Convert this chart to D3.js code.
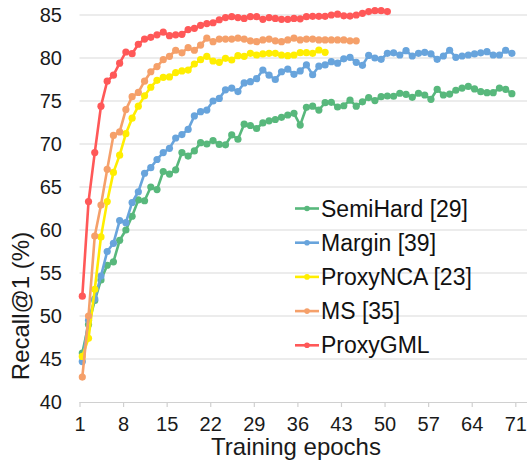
<!DOCTYPE html>
<html>
<head>
<meta charset="utf-8">
<script src="https://cdn.jsdelivr.net/npm/d3@7"></script>
<style>
  html, body { margin: 0; padding: 0; background: #fff; }
  svg { display: block; font-family: "Liberation Sans", Arial, sans-serif; }
</style>
</head>
<body>
<svg id="chart" width="527" height="462"></svg>
<script>
// ---- data ----
const seriesNames = ["SemiHard [29]", "Margin [39]", "ProxyNCA [23]", "MS [35]", "ProxyGML"];
const seriesColors = ["#58b87c", "#68a4dc", "#ffee00", "#f5a06a", "#ff5858"];

const semiHard = [45.7, 49.0, 51.8, 54.2, 55.9, 56.3, 58.8, 60.0, 61.6, 63.5,
  63.4, 65.0, 64.7, 66.8, 66.5, 67.0, 69.0, 68.6, 69.2, 70.15,
  70.0, 70.4, 69.95, 69.9, 71.05, 70.55, 72.3, 72.15, 71.8, 72.45,
  72.7, 72.85, 73.1, 73.37, 73.57, 72.2, 74.27, 74.4, 73.95, 74.8,
  74.85, 74.3, 74.45, 75.1, 74.4, 74.9, 75.4, 75.05, 75.5, 75.58,
  75.55, 75.9, 75.78, 75.43, 75.9, 75.7, 75.2, 76.36, 75.7, 75.8,
  76.25, 76.5, 76.7, 76.4, 76.08, 75.97, 75.97, 76.5, 76.36, 75.85];

const margin = [44.7, 49.5, 52.0, 54.65, 57.5, 58.45, 61.1, 60.85, 63.2, 64.45,
  66.6, 67.25, 68.2, 69.0, 69.5, 70.7, 71.1, 71.7, 73.26, 73.76,
  73.95, 75.0, 75.3, 76.3, 76.5, 76.1, 77.1, 77.25, 77.6, 78.6,
  78.0, 77.5, 78.4, 78.7, 78.1, 78.5, 79.2, 78.05, 79.05, 79.2,
  79.57, 79.4, 79.9, 80.08, 79.5, 79.15, 80.3, 80.0, 79.85, 80.54,
  80.6, 80.35, 80.85, 80.23, 80.54, 80.66, 80.47, 79.85, 80.23, 80.9,
  80.08, 80.23, 80.35, 80.47, 80.6, 80.74, 80.35, 80.35, 80.9, 80.54];

const proxyNCA = [45.3, 47.4, 53.1, 59.2, 63.3, 66.7, 68.7, 71.2, 73.0, 74.4,
  75.6, 76.6, 77.4, 77.75, 77.8, 78.3, 78.5, 78.6, 79.3, 79.8,
  80.2, 79.65, 79.5, 79.96, 79.77, 80.27, 80.2, 80.54, 80.35, 80.47,
  80.54, 80.54, 80.35, 80.27, 80.35, 80.62, 80.62, 80.54, 80.93, 80.66];

const ms = [42.9, 50.0, 59.3, 62.9, 67.05, 71.0, 71.4, 74.0, 75.5, 76.0,
  77.3, 78.4, 79.0, 79.8, 80.2, 80.9, 80.6, 81.2, 80.9, 81.5,
  82.3, 81.9, 82.2, 82.2, 82.2, 82.3, 82.2, 82.0, 81.9, 82.1,
  82.2, 82.0, 81.9, 82.1, 82.3, 82.1, 82.2, 82.2, 82.1, 82.1,
  82.1, 82.1, 82.1, 82.0, 82.0];

const proxyGML = [52.3, 63.3, 69.0, 74.4, 77.3, 78.0, 79.4, 80.7, 80.5, 81.6,
  82.2, 82.4, 82.7, 83.0, 82.6, 82.7, 82.75, 83.3, 83.45, 83.8,
  84.0, 84.1, 84.45, 84.7, 84.8, 84.7, 84.6, 84.8, 84.8, 84.5,
  84.7, 84.6, 84.5, 84.5, 84.6, 84.55, 84.8, 84.85, 84.85, 84.85,
  85.0, 85.1, 84.9, 84.87, 85.0, 85.2, 85.4, 85.5, 85.5, 85.4];

const xTickLabels = [1, 8, 15, 22, 29, 36, 43, 50, 57, 64, 71];
const yTickLabels = [40, 45, 50, 55, 60, 65, 70, 75, 80, 85];
const xTitle = "Training epochs";
const yTitle = "Recall@1 (%)";

const allSeries = [semiHard, margin, proxyNCA, ms, proxyGML];

// ---- layout ----
const svg = d3.select("#chart");
const x = d3.scaleLinear().domain([1, 71]).range([79.5, 515.3]);
const pointOffset = 0.45; // markers sit slightly right of the category tick
const y = d3.scaleLinear().domain([40, 85]).range([402, 15]);

svg.append("rect").attr("width", 527).attr("height", 462).attr("fill", "#fff");

// gridlines
svg.append("g").selectAll("line")
  .data(yTickLabels.filter(v => v > 40))
  .join("line")
  .attr("x1", x(1)).attr("x2", 527)
  .attr("y1", d => y(d)).attr("y2", d => y(d))
  .attr("stroke", "#d9d9d9").attr("stroke-width", 1.2);

// x axis
const xAxis = d3.axisBottom(x).tickValues(xTickLabels).tickSize(5).tickPadding(10).tickFormat(d3.format("d"));
const gx = svg.append("g").attr("transform", `translate(0,${y(40)})`).call(xAxis);
gx.select(".domain").attr("stroke", "#d0d0d0").attr("stroke-width", 1.2).attr("d", `M${x(1)},0.5H527`);
gx.selectAll(".tick line").attr("stroke", "#d0d0d0").attr("stroke-width", 1.2);
gx.selectAll(".tick text").attr("font-size", 20).attr("fill", "#1a1a1a")
  .attr("font-family", "'Liberation Sans', Arial, sans-serif").attr("dy", "0.71em");

// y axis labels
const yAxis = d3.axisLeft(y).tickValues(yTickLabels).tickSize(0).tickPadding(0);
const gy = svg.append("g").attr("transform", `translate(62,0)`).call(yAxis);
gy.select(".domain").remove();
gy.selectAll(".tick text").attr("font-size", 20).attr("fill", "#1a1a1a")
  .attr("font-family", "'Liberation Sans', Arial, sans-serif");

// titles
svg.append("text").attr("x", 296).attr("y", 455).attr("text-anchor", "middle")
  .attr("font-size", 24).attr("fill", "#1a1a1a").text(xTitle);
svg.append("text").attr("transform", "translate(29,306) rotate(-90)").attr("text-anchor", "middle")
  .attr("font-size", 24).attr("fill", "#1a1a1a").text(yTitle);

// series
const line = d3.line().x((d, i) => x(i + 1 + pointOffset)).y(d => y(d));
allSeries.forEach((data, s) => {
  const g = svg.append("g");
  g.append("path").datum(data).attr("d", line)
    .attr("fill", "none").attr("stroke", seriesColors[s]).attr("stroke-width", 2.6)
    .attr("stroke-linejoin", "round");
  g.selectAll("circle").data(data).join("circle")
    .attr("cx", (d, i) => x(i + 1 + pointOffset)).attr("cy", d => y(d)).attr("r", 3.6)
    .attr("fill", seriesColors[s]);
});

// legend
const legend = svg.append("g");
seriesNames.forEach((name, i) => {
  const ly = 208.5 + i * 34.2;
  legend.append("line").attr("x1", 295).attr("x2", 319).attr("y1", ly).attr("y2", ly)
    .attr("stroke", seriesColors[i]).attr("stroke-width", 2.6);
  legend.append("circle").attr("cx", 307).attr("cy", ly).attr("r", 2.8).attr("fill", seriesColors[i]);
  legend.append("text").attr("x", 321).attr("y", ly).attr("dy", "0.35em")
    .attr("font-size", 23).attr("fill", "#111").text(name);
});
</script>
</body>
</html>
